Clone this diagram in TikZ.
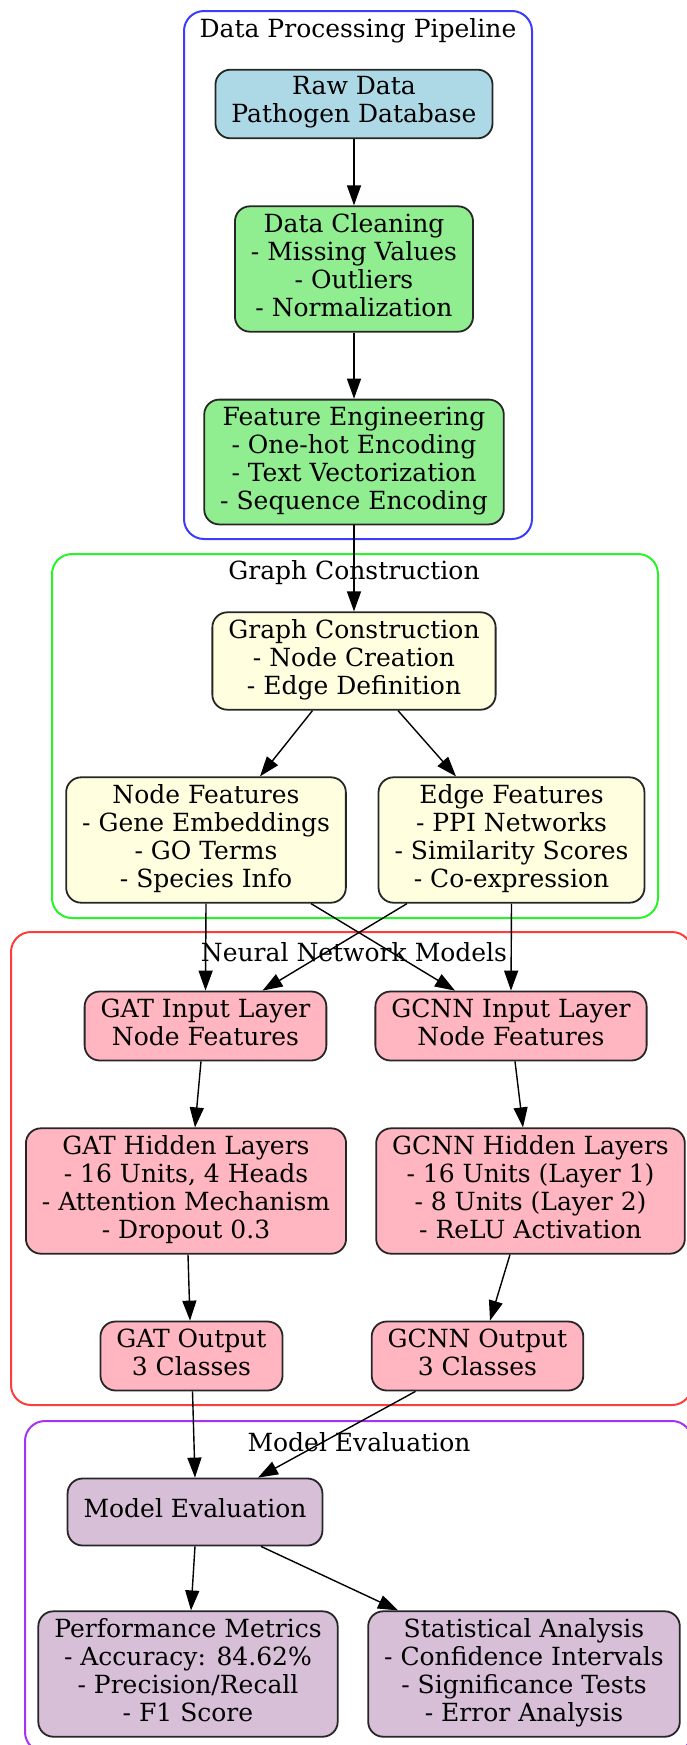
\documentclass[tikz,border=0pt]{standalone}
\usepackage{fontspec}
\setmainfont{DejaVu Serif}
\usetikzlibrary{arrows.meta,calc,positioning}

\definecolor{rawblue}{HTML}{ADD8E6}
\definecolor{prepgreen}{HTML}{90EE90}
\definecolor{graphyellow}{HTML}{FFFFE0}
\definecolor{modelpink}{HTML}{FFB6C1}
\definecolor{evalthistle}{HTML}{D8BFD8}
\definecolor{pipeblue}{RGB}{60,60,255}
\definecolor{graphgreen}{RGB}{40,245,40}
\definecolor{modelred}{RGB}{255,60,60}
\definecolor{evalpurple}{RGB}{165,50,245}

\tikzset{
	stage/.style={draw=black!85,line width=0.9pt,rounded corners=7.5pt,align=center,
		inner xsep=8pt,inner ysep=3.5pt,font=\fontsize{12.5}{14}\selectfont,
		execute at begin node=\strut,execute at end node=\strut},
	group/.style={rounded corners=10pt,line width=1pt},
	grouplabel/.style={font=\fontsize{12.5}{14}\selectfont},
	flow/.style={-{Triangle[length=10pt,width=7pt]},line width=0.7pt}
}

\begin{document}
\begin{tikzpicture}[x=0.5pt,y=-0.5pt]
	\useasboundingbox (0,0) rectangle (686,1745);

	% clusters
	\draw[group,draw=pipeblue] (184,11) rectangle (532,539);
	\node[grouplabel](pipetitle) at (358,31){Data Processing Pipeline};
	\draw[group,draw=graphgreen] (52,554) rectangle (658,918);
	\node[grouplabel](graphtitle) at (354,573){Graph Construction};
	\draw[group,draw=modelred] (11,932) rectangle (692,1405);
	\node[grouplabel](modeltitle) at (354,952){Neural Network Models};
	\draw[group,draw=evalpurple] (25,1421) rectangle (692,1752);
	\node[grouplabel](evaltitle) at (359,1442){Model Evaluation};

	% data processing
	\node[stage,fill=rawblue](raw) at (354,104){Raw Data\\Pathogen Database};
	\node[stage,fill=prepgreen](clean) at (354,269){Data Cleaning\\- Missing Values\\- Outliers\\- Normalization};
	\node[stage,fill=prepgreen](feat) at (354,462){Feature Engineering\\- One-hot Encoding\\- Text Vectorization\\- Sequence Encoding};

	% graph construction
	\node[stage,fill=graphyellow](graph) at (354,661){Graph Construction\\- Node Creation\\- Edge Definition};
	\node[stage,fill=graphyellow](nodefeat) at (206,840){Node Features\\- Gene Embeddings\\- GO Terms\\- Species Info};
	\node[stage,fill=graphyellow](edgefeat) at (511.5,840){Edge Features\\- PPI Networks\\- Similarity Scores\\- Co-expression};

	% models
	\node[stage,fill=modelpink](gatin) at (205.5,1026){GAT Input Layer\\Node Features};
	\node[stage,fill=modelpink](gcnnin) at (511,1026){GCNN Input Layer\\Node Features};
	\node[stage,fill=modelpink](gathidden) at (186,1191){GAT Hidden Layers\\- 16 Units, 4 Heads\\- Attention Mechanism\\- Dropout 0.3};
	\node[stage,fill=modelpink](gcnnhidden) at (530.5,1191){GCNN Hidden Layers\\- 16 Units (Layer 1)\\- 8 Units (Layer 2)\\- ReLU Activation};
	\node[stage,fill=modelpink](gatout) at (191.5,1356){GAT Output\\3 Classes};
	\node[stage,fill=modelpink](gcnnout) at (477.5,1356){GCNN Output\\3 Classes};

	% evaluation
	\node[stage,fill=evalthistle,minimum height=33.5pt](evaluation) at (195,1512){Model Evaluation};
	\node[stage,fill=evalthistle](metrics) at (188,1674){Performance Metrics\\- Accuracy: 84.62\%\\- Precision/Recall\\- F1 Score};
	\node[stage,fill=evalthistle](stats) at (524,1674){Statistical Analysis\\- Confidence Intervals\\- Significance Tests\\- Error Analysis};

	\draw[flow] (raw.south) -- (clean.north);
	\draw[flow] (clean.south) -- (feat.north);
	\draw[flow] (feat.south) -- (graph.north);
	\draw[flow] ($(graph.south)+(-41.5,0)$) -- ($(nodefeat.north)+(54,0)$);
	\draw[flow] ($(graph.south)+(44,0)$) -- ($(edgefeat.north)+(-55.5,0)$);
	\draw[flow] (nodefeat.south) -- (gatin.north);
	\draw[flow] ($(nodefeat.south)+(105,0)$) -- ($(gcnnin.north)+(-56,0)$);
	\draw[flow] ($(edgefeat.south)+(-104.5,0)$) -- ($(gatin.north)+(57,0)$);
	\draw[flow] (edgefeat.south) -- (gcnnin.north);
	\draw[flow] ($(gatin.south)+(-4.5,0)$) -- ($(gathidden.north)+(9,0)$);
	\draw[flow] ($(gcnnin.south)+(4,0)$) -- ($(gcnnhidden.north)+(-7.5,0)$);
	\draw[flow] ($(gathidden.south)+(2,0)$) -- ($(gatout.north)+(-1.5,0)$);
	\draw[flow] ($(gcnnhidden.south)+(-20.5,0)$) -- ($(gcnnout.north)+(12.5,0)$);
	\draw[flow] ($(gatout.south)+(1,0)$) -- (evaluation.north);
	\draw[flow] ($(gcnnout.south)+(-62,0)$) -- ($(evaluation.north)+(63,0)$);
	\draw[flow] (evaluation.south) -- ($(metrics.north)+(3,0)$);
	\draw[flow] ($(evaluation.south)+(66,0)$) -- ($(stats.north)+(-126,0)$);
\end{tikzpicture}
\end{document}
